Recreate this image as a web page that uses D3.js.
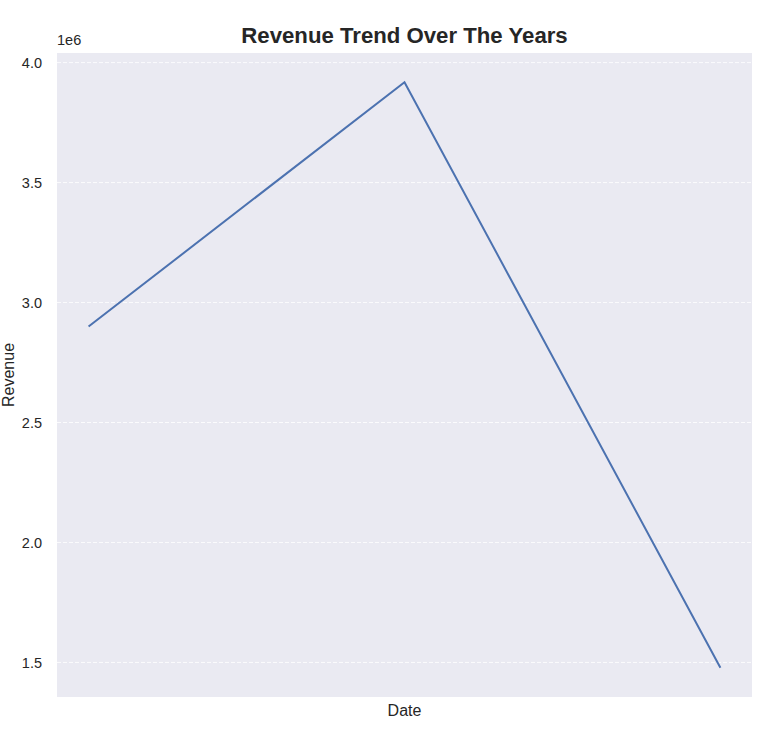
<!DOCTYPE html>
<html>
<head>
<meta charset="utf-8">
<script src="https://cdn.jsdelivr.net/npm/d3@7/dist/d3.min.js"></script>
<style>
  body { margin: 0; background: #fff; }
  text { font-family: "Liberation Sans", Arial, sans-serif; fill: #262626; }
</style>
</head>
<body>
<svg id="chart" width="766" height="746"></svg>
<script>
// data (x labels are hidden in the original)
const dates = ['2021', '2022', '2023'];
const revenue = [2900000, 3918000, 1478000];
const yTicks = [1.5e6, 2.0e6, 2.5e6, 3.0e6, 3.5e6, 4.0e6];

const width = 766;
const height = 746;
const margin = {top: 53, right: 14, bottom: 49, left: 57};
const innerW = width - margin.left - margin.right;
const innerH = height - margin.top - margin.bottom;

const svg = d3.select('#chart');

const g = svg.append('g')
    .attr('transform', 'translate(' + margin.left + ',' + margin.top + ')');

// matplotlib-like 5% margins
const n = dates.length;
const xPad = (n - 1) * 0.05;
const x = d3.scaleLinear()
    .domain([-xPad, n - 1 + xPad])
    .range([0, innerW]);

const yMin = d3.min(revenue);
const yMax = d3.max(revenue);
const yPad = (yMax - yMin) * 0.05;
const y = d3.scaleLinear()
    .domain([yMin - yPad, yMax + yPad])
    .range([innerH, 0]);

g.append('rect')
    .attr('width', innerW)
    .attr('height', innerH)
    .attr('fill', '#eaeaf2');

// dashed white grid
g.selectAll('.grid')
    .data(yTicks)
    .enter()
    .append('line')
    .attr('class', 'grid')
    .attr('x1', 0)
    .attr('x2', innerW)
    .attr('y1', d => y(d))
    .attr('y2', d => y(d))
    .attr('stroke', '#fff')
    .attr('stroke-width', 0.8)
    .attr('stroke-dasharray', '4,2');

const yAxis = d3.axisLeft(y)
    .tickValues(yTicks)
    .tickSize(0)
    .tickPadding(15)
    .tickFormat(d => (d / 1e6).toFixed(1));

g.append('g')
    .call(yAxis)
    .call(ax => ax.select('.domain').remove())
    .selectAll('text')
    .style('font-size', '14.5px')
    .style('fill', '#262626');

g.append('text')
    .attr('x', 0)
    .attr('y', -8)
    .style('font-size', '14.5px')
    .text('1e6');

const line = d3.line()
    .x((d, i) => x(i))
    .y(d => y(d));

g.append('path')
    .datum(revenue)
    .attr('d', line)
    .attr('fill', 'none')
    .attr('stroke', '#4c72b0')
    .attr('stroke-width', 2);

svg.append('text')
    .attr('x', margin.left + innerW / 2)
    .attr('y', 43)
    .attr('text-anchor', 'middle')
    .style('font-size', '22.2px')
    .style('font-weight', 'bold')
    .text('Revenue Trend Over The Years');

svg.append('text')
    .attr('x', margin.left + innerW / 2)
    .attr('y', 716)
    .attr('text-anchor', 'middle')
    .style('font-size', '16px')
    .text('Date');

svg.append('text')
    .attr('transform', 'translate(14,' + (margin.top + innerH / 2) + ') rotate(-90)')
    .attr('text-anchor', 'middle')
    .style('font-size', '16px')
    .text('Revenue');
</script>
</body>
</html>
